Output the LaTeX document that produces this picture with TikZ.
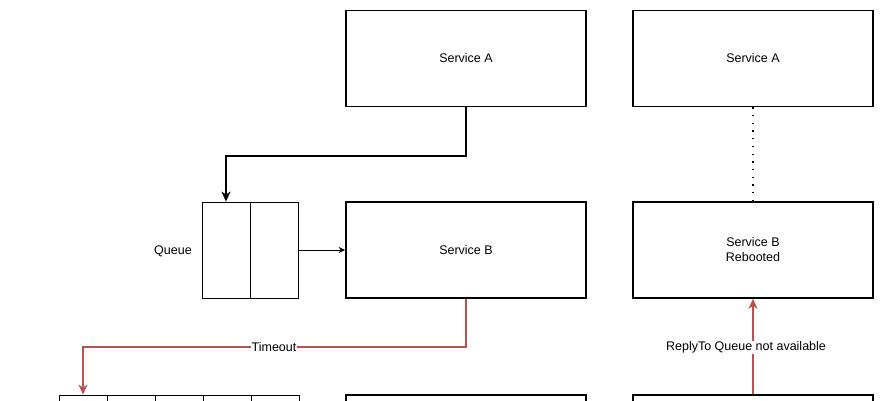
\documentclass[tikz,border=0pt]{standalone}
\usepackage{fontspec}
\setmainfont{Liberation Sans}
\usetikzlibrary{arrows.meta,positioning}
\definecolor{redline}{HTML}{B85450}
\tikzset{
  svc/.style={draw=black, line width=1.6pt, minimum width=240pt, minimum height=96pt, inner sep=0pt, align=center, font=\fontsize{12.5}{15}\selectfont},
  qcell/.style={draw=black, line width=0.8pt, minimum width=48pt, minimum height=96pt, inner sep=0pt},
  bigarrow/.style={line width=1.6pt, -{Stealth[length=10pt,width=9pt,inset=3pt]}},
  smallarrow/.style={line width=0.8pt, -{Stealth[length=6.5pt,width=6pt,inset=2pt]}},
  redarrow/.style={draw=redline, line width=1.5pt, -{Stealth[length=10pt,width=9pt,inset=3pt]}},
  lbl/.style={fill=white, inner sep=1pt, font=\fontsize{12.5}{15}\selectfont},
}
\begin{document}
\begin{tikzpicture}[x=1pt,y=-1pt]
\useasboundingbox (0,0) rectangle (883,400);
\clip (0,0) rectangle (883,400);
% top row
\node[svc] (sa1) at (466,58.5) {Service A};
\node[svc] (sa2) at (753,58.5) {Service A};
% middle row
\node[svc] (sb1) at (466,250) {Service B};
\node[svc] (sb2) at (753,250) {Service B\\Rebooted};
\node[qcell] (q1) at (226,250) {};
\node[qcell] (q2) at (274,250) {};
\node[font=\fontsize{12.5}{15}\selectfont] (qlbl) at (173,251) {Queue};
% bottom row (cut off)
\node[svc] (sc1) at (466,443) {};
\node[svc] (sc2) at (753,443) {};
\node[qcell] (b1) at (83,443) {};
\node[qcell] (b2) at (131,443) {};
\node[qcell] (b3) at (179,443) {};
\node[qcell] (b4) at (227,443) {};
\node[qcell] (b5) at (275,443) {};
% connectors
\draw[bigarrow] (sa1.south) -- ++(0,48.5) -| (q1.north);
\draw[smallarrow] (q2.east) -- (sb1.west);
\draw[line width=1.3pt, dash pattern=on 1.3pt off 6.4pt] (sa2.south) -- (sb2.north);
\draw[redarrow] (sb1.south) -- ++(0,48) -| (b1.north);
\node[lbl] (tlbl) at (274,347.5) {Timeout};
\draw[redarrow] (sc2.north) -- (sb2.south);
\node[lbl] (rlbl) at (746,347.5) {ReplyTo Queue not available};
\end{tikzpicture}
\end{document}
